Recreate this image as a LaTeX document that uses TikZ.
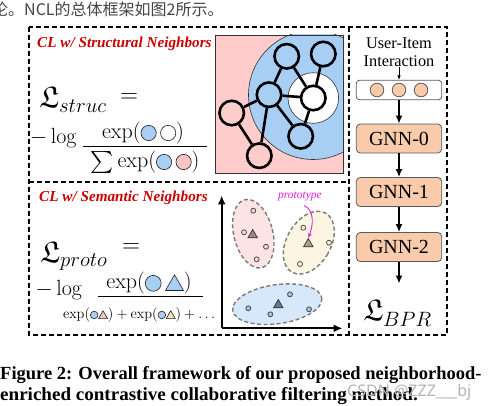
\documentclass[tikz,border=0pt]{standalone}
\usepackage{graphicx}
\usepackage{amsmath,amssymb}
\usepackage[no-math]{fontspec}
\setmainfont{Liberation Serif}
\newfontfamily\cjkfont{Noto Sans CJK SC}
\newfontfamily\wmfont{Noto Sans}
\usetikzlibrary{arrows.meta,shapes.geometric}
\definecolor{titlered}{HTML}{CC0000}
\definecolor{cblue}{HTML}{A9CEF4}
\definecolor{cpink}{HTML}{FFCCCC}
\definecolor{dpink}{HTML}{F7C4C4}
\definecolor{peach}{HTML}{F9CBAA}
\definecolor{boxline}{HTML}{5A5A5A}
\definecolor{ellpink}{HTML}{FDE4E4}
\definecolor{ellyellow}{HTML}{FCF5E2}
\definecolor{ellblue}{HTML}{D6E8F9}
\definecolor{ellline}{HTML}{7A7A7A}
\definecolor{tripink}{HTML}{A58283}
\definecolor{triyellow}{HTML}{A4A389}
\definecolor{triblue}{HTML}{5B7B9B}
\definecolor{magen}{HTML}{E01EE0}
\definecolor{ptpink}{HTML}{F9D3D3}
\definecolor{ptyellow}{HTML}{FBEFC9}
\definecolor{ptblue}{HTML}{95C4F0}
\definecolor{cyel}{HTML}{F6E2B0}
\definecolor{topgray}{HTML}{444444}
\definecolor{wmgray}{HTML}{B4B4B4}
\newcommand{\symc}[2]{\tikz[baseline=-0.25em,x=1pt,y=1pt]\draw[line width=0.6pt,draw=black!85,fill=#1] (0,0) circle[radius=#2];}
\newcommand{\symt}[2]{\tikz[baseline=-0.25em,x=1pt,y=1pt]\draw[line width=0.6pt,draw=black!85,fill=#1,line join=round] (-#2,-0.8*#2) -- (#2,-0.8*#2) -- (0,0.95*#2) -- cycle;}
\newcommand{\mymath}[1]{\scalebox{1.06}{$#1$}}
\begin{document}
\begin{tikzpicture}[x=1pt,y=-1pt,
 panel/.style={draw=black, line width=1.2pt, dash pattern=on 5pt off 3pt},
 title/.style={font=\fontsize{15.2}{17}\selectfont\bfseries\itshape, text=titlered, inner sep=0pt},
 mathnode/.style={inner sep=0pt, font=\fontsize{20.74}{24}\selectfont},
 bigL/.style={inner sep=0pt, font=\fontsize{30}{32}\selectfont},
 fracbar/.style={line width=1pt},
 gnode/.style={circle, draw=black, line width=2.6pt, minimum size=24.5pt, inner sep=0pt},
 gedge/.style={line width=2.6pt},
 gnnbox/.style={draw=boxline, fill=peach, rounded corners=4pt, line width=0.8pt, minimum width=85.4pt, minimum height=29pt, inner sep=0pt, font=\fontsize{20}{22}\selectfont},
 incirc/.style={circle, draw=boxline, fill=peach, line width=0.8pt, minimum size=13.6pt, inner sep=0pt},
 bigarrow/.style={line width=1.5pt, -{Latex[length=8pt,width=7pt]}},
 smallarrow/.style={line width=0.7pt, -{Latex[length=4.5pt,width=3.5pt]}},
 axisarrow/.style={line width=1.8pt, -{Latex[length=9pt,width=8pt]}},
 ell/.style={draw=ellline, line width=1.4pt, dash pattern=on 4pt off 2.5pt},
 dotpt/.style={circle, line width=0.7pt, minimum size=5pt, inner sep=0pt},
 tri/.style={regular polygon, regular polygon sides=3, draw=black!80, line width=0.7pt, minimum size=11pt, inner sep=0pt},
]
\useasboundingbox (0,0) rectangle (495,406);

% top running text
\node[anchor=base west, inner sep=0pt, font=\cjkfont\fontsize{16}{18}\selectfont, text=topgray] (toptext) at (-8,16) {论。NCL的总体框架如图2所示。};

% panels
\draw[panel] (29,27) rectangle (447,335);
\draw[panel] (349,27) -- (349,335);
\draw[panel] (29,182) -- (349,182);

% ---------- top-left: structural ----------
\node[title, anchor=west] (t1) at (37,44) {CL w/ Structural Neighbors};
\node[bigL, anchor=base west] (Ls) at (39,108) {$\mathfrak{L}_{struc}$};
\node[mathnode, font=\fontsize{24.88}{26}\selectfont] (eq1) at (129,98) {$=$};
\node[mathnode] (log1) at (53.5,138) {\mymath{-\log}};
\node[mathnode] (num1) at (143,133) {\mymath{\exp(\symc{cblue}{7.2}\,\symc{white}{7.2})}};
\draw[fracbar] (83,146.7) -- (207,146.7);
\node[mathnode] (den1) at (145,162) {\mymath{\sum\exp(\symc{cblue}{7.2}\,\symc{dpink}{7.2})}};

% graph
\begin{scope}
\clip (215,35) rectangle (343,173);
\fill[cpink] (215,35) rectangle (343,173);
\draw[fill=cblue, draw=black!80, line width=0.6pt] (313,95) circle[radius=64.5];
\draw[fill=white, draw=black!80, line width=0.6pt] (313.3,98) circle[radius=25.3];
\end{scope}
\draw[black!80, line width=0.9pt] (215,35) rectangle (343,173);
\node[gnode, fill=cblue] (n1) at (286.7,56.3) {};
\node[gnode, fill=cblue] (n2) at (323.3,54) {};
\node[gnode, fill=cblue] (n3) at (269,94.7) {};
\node[gnode, fill=white] (n4) at (313.3,98) {};
\node[gnode, fill=cpink] (n5) at (231.7,113) {};
\node[gnode, fill=cpink] (n6) at (259.3,155.7) {};
\node[gnode, fill=cblue] (n7) at (300.7,136.3) {};
\draw[gedge] (n1) -- (n3);
\draw[gedge] (n1) -- (n4);
\draw[gedge] (n2) -- (n4);
\draw[gedge] (n3) -- (n4);
\draw[gedge] (n3) -- (n5);
\draw[gedge] (n3) -- (n6);
\draw[gedge] (n3) -- (n7);
\draw[gedge] (n4) -- (n7);
\draw[gedge] (n5) -- (n6);

% ---------- bottom-left: semantic ----------
\node[title, anchor=west] (t2) at (39,198) {CL w/ Semantic Neighbors};
\node[bigL, anchor=base west] (Lp) at (40,262) {$\mathfrak{L}_{proto}$};
\node[mathnode, font=\fontsize{24.88}{26}\selectfont] (eq2) at (131,248) {$=$};
\node[mathnode] (log2) at (59,290) {\mymath{-\log}};
\node[mathnode] (num2) at (149,283.3) {\mymath{\exp(\symc{cblue}{7.5}\,\symt{cblue}{8.5})}};
\draw[fracbar] (98,296.7) -- (203,296.7);
\node[mathnode, font=\fontsize{14.4}{16}\selectfont] (den2) at (139,315) {$\exp(\symc{cblue}{3.8}\symt{dpink}{4.5})+\exp(\symc{cblue}{3.8}\symt{cyel}{4.5})+\ldots$};

% ellipses
\draw[ell, fill=ellpink, rotate around={14:(253.3,233.7)}] (253.3,233.7) ellipse[x radius=19.5, y radius=35];
\draw[ell, fill=ellyellow, rotate around={-30:(308.8,242.7)}] (308.8,242.7) ellipse[x radius=22, y radius=34];
\draw[ell, fill=ellblue, rotate around={8:(277.2,304.2)}] (277.2,304.2) ellipse[x radius=45, y radius=19.5];

% points
\foreach \p in {(253.3,210.7),(244,232.3),(266,246.7),(256.7,259.3)}
  \node[dotpt, draw=black!75, fill=ptpink] at \p {};
\foreach \p in {(303.3,227.7),(329,242.7),(300,264)}
  \node[dotpt, draw=black!75, fill=ptyellow] at \p {};
\foreach \p in {(248.3,308.3),(270.3,314.3),(290,294.3),(309,309.3)}
  \node[dotpt, draw=black!75, fill=ptblue] at \p {};
\node[tri, fill=tripink] (tr1) at (252.7,235) {};
\node[tri, fill=triyellow] (tr2) at (308.3,244) {};
\node[tri, fill=triblue] (tr3) at (278.3,305) {};

% axes
\coordinate (O) at (221.7,328.3);
\coordinate (ytip) at (221.7,195.5);
\coordinate (xtip) at (342.5,328.3);
\draw[axisarrow] (O) -- (ytip);
\draw[axisarrow] (O) -- (xtip);

% prototype label
\node[inner sep=0pt, font=\fontsize{11.5}{13}\selectfont\itshape, text=magen] (proto) at (300,197) {prototype};
\coordinate (pstart) at (304.3,205.5);
\draw[magen, line width=0.9pt, -{Stealth[length=5pt,width=4pt]}] (pstart) .. controls (315,211) and (313,226) .. (tr2.north);

% ---------- right panel ----------
\node[inner sep=0pt, align=center, font=\fontsize{16.3}{18.5}\selectfont] (ui) at (399,52) {User-Item\\Interaction};
\node[draw=boxline, rounded corners=3pt, line width=0.8pt, minimum width=85.4pt, minimum height=19.4pt, inner sep=0pt] (inbox) at (399,90) {};
\node[incirc] (c1) at (377,90) {};
\node[incirc] (c2) at (399,90) {};
\node[incirc] (c3) at (421,90) {};
\draw[smallarrow] (ui.south) -- (inbox.north);
\node[gnnbox] (g0) at (399,138.5) {GNN-0};
\node[gnnbox] (g1) at (399,192) {GNN-1};
\node[gnnbox] (g2) at (399,247) {GNN-2};
\coordinate (bprin) at (399,283.5);
\node[bigL] (lbpr) at (397.5,313) {$\mathfrak{L}_{BPR}$};
\draw[bigarrow] (inbox) -- (g0);
\draw[bigarrow] (g0) -- (g1);
\draw[bigarrow] (g1) -- (g2);
\draw[bigarrow] (g2) -- (bprin);

% caption
\node[anchor=base west, inner sep=0pt, font=\fontsize{18.5}{21}\selectfont\bfseries] (cap1) at (0,379) {Figure 2: Overall framework of our proposed neighborhood-};
\node[anchor=base west, inner sep=0pt, font=\fontsize{18.5}{21}\selectfont\bfseries] (cap2) at (0,400.5) {\scalebox{1.03}[1]{enriched contrastive collaborative filtering method.}};
\node[anchor=base west, inner sep=0pt, font=\wmfont\fontsize{16}{18}\selectfont, text=wmgray] (wm) at (347,396.5) {CSDN @ZZZ\_\_\_bj};
\end{tikzpicture}
\end{document}
